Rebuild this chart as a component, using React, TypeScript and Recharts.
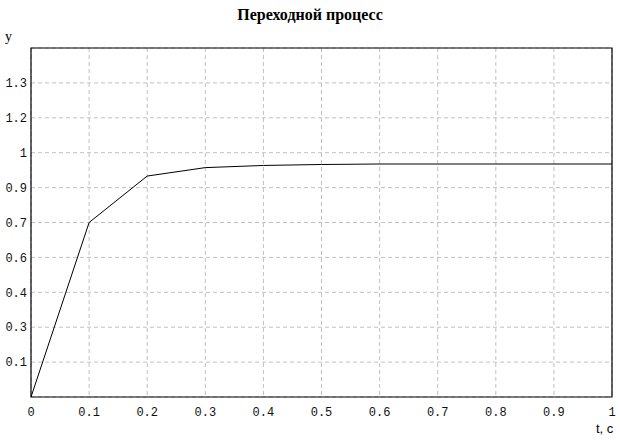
import React from "react";
import { LineChart, Line, XAxis, YAxis, CartesianGrid, ReferenceArea } from "recharts";

// время, с
const tValues = [0, 0.1, 0.2, 0.3, 0.4, 0.5, 0.6, 0.7, 0.8, 0.9, 1];
// выход системы
const yValues = [0, 0.725, 0.918, 0.953, 0.962, 0.966, 0.968, 0.968, 0.968, 0.968, 0.968];

const xTicks = [0, 0.1, 0.2, 0.3, 0.4, 0.5, 0.6, 0.7, 0.8, 0.9, 1];
const xTickLabels = ["0", "0.1", "0.2", "0.3", "0.4", "0.5", "0.6", "0.7", "0.8", "0.9", "1"];
const yTicks = [0.145, 0.29, 0.435, 0.58, 0.725, 0.87, 1.015, 1.16, 1.305];
const yTickLabels = ["0.1", "0.3", "0.4", "0.6", "0.7", "0.9", "1", "1.2", "1.3"];
const yMax = 1.45;

const data = tValues.map((t, i) => ({ t, y: yValues[i] }));

const tickStyle = { fontFamily: "'Liberation Mono', monospace", fontSize: 12, fill: "#111" };

export default function App() {
    return (
        <div style={{ position: "absolute", left: 0, top: 0, width: 620, height: 443, background: "#fff" }}>
            <div
                style={{
                    position: "absolute",
                    top: 6,
                    left: 0,
                    width: 620,
                    textAlign: "center",
                    fontFamily: "'Liberation Serif', serif",
                    fontWeight: "bold",
                    fontSize: 16,
                    color: "#000",
                }}
            >
                Переходной процесс
            </div>
            <div
                style={{
                    position: "absolute",
                    top: 29,
                    left: 5,
                    fontFamily: "'Liberation Serif', serif",
                    fontSize: 14,
                    color: "#000",
                }}
            >
                y
            </div>
            <div
                style={{
                    position: "absolute",
                    top: 421,
                    left: 596,
                    fontFamily: "'Liberation Sans', sans-serif",
                    fontSize: 13,
                    color: "#000",
                }}
            >
                t, c
            </div>
            <LineChart
                width={620}
                height={443}
                data={data}
                margin={{ top: 48, right: 8, left: 0, bottom: 0 }}
            >
                <CartesianGrid stroke="#c0c0c0" strokeDasharray="4 3" />
                <XAxis
                    dataKey="t"
                    type="number"
                    domain={[0, 1]}
                    ticks={xTicks}
                    interval={0}
                    height={46}
                    tickLine={false}
                    axisLine={false}
                    tickSize={6}
                    tickMargin={4}
                    tick={tickStyle}
                    tickFormatter={(v: number, i: number) => xTickLabels[i]}
                />
                <YAxis
                    type="number"
                    domain={[0, yMax]}
                    ticks={yTicks}
                    interval={0}
                    width={31}
                    tickLine={false}
                    axisLine={false}
                    tickSize={2}
                    tickMargin={2}
                    tick={tickStyle}
                    tickFormatter={(v: number, i: number) => yTickLabels[i]}
                />
                <ReferenceArea x1={0} x2={1} y1={0} y2={yMax} fill="none" stroke="#000" strokeWidth={1.2} />
                <Line
                    type="linear"
                    dataKey="y"
                    stroke="#000"
                    strokeWidth={1}
                    dot={false}
                    isAnimationActive={false}
                />
            </LineChart>
        </div>
    );
}
